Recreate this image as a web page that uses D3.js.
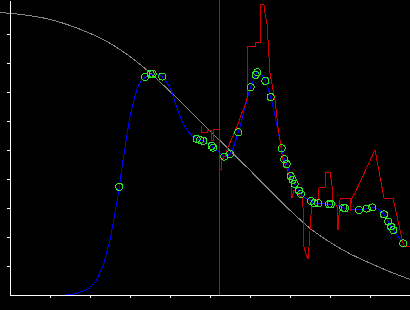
<!DOCTYPE html>
<html>
<head>
<meta charset="utf-8">
<script src="https://cdn.jsdelivr.net/npm/d3@7"></script>
<style>
  html, body { margin: 0; padding: 0; background: #000; }
  svg { display: block; }
</style>
</head>
<body>
<svg id="chart" width="410" height="310"></svg>
<script>
// Reference curve (gray), fitted curve (blue), raw trace (red), samples (green rings).
const grayX = [-0.25, 0, 0.5, 1, 1.5, 2, 2.5, 3, 3.5, 4, 4.5, 5, 5.5, 6, 6.5, 7, 7.5, 8, 8.5, 9, 9.5, 10];
const grayY = [9.74, 9.71, 9.63, 9.5, 9.29, 9.02, 8.68, 8.22, 7.66, 7.02, 6.35, 5.66, 4.98, 4.3, 3.6, 2.92, 2.3, 1.82, 1.42, 1.1, 0.8, 0.54];

const blueX = [0, 1.375, 1.5, 1.667, 1.825, 1.958, 2.083, 2.167, 2.25, 2.333, 2.417, 2.5, 2.583, 2.625,
  2.733, 2.8, 2.875, 3.0, 3.125, 3.208, 3.25, 3.375, 3.542, 3.675, 3.808, 3.917, 4.042, 4.167, 4.292,
  4.458, 4.667, 4.75, 4.833, 5.042, 5.083, 5.208, 5.358, 5.5, 5.708, 6.017, 6.142, 6.183, 6.383, 6.517,
  6.792, 6.858, 6.917, 7.017, 7.067, 7.117, 7.225, 7.275, 7.525, 7.608, 7.708, 7.975, 8.025, 8.333,
  8.375, 8.725, 8.917, 9.058, 9.35, 9.458, 9.525, 9.583, 9.833];
const blueY = [0, 0, 0.02, 0.06, 0.14, 0.23, 0.38, 0.52, 0.79, 1.03, 1.48, 1.9, 2.52, 2.83,
  3.73, 4.41, 5.07, 6.14, 6.86, 7.21, 7.31, 7.5, 7.61, 7.6, 7.52, 7.33, 7.01, 6.47, 6.02,
  5.63, 5.38, 5.34, 5.31, 5.14, 5.08, 4.95, 4.77, 4.86, 5.61, 7.16, 7.59, 7.68, 7.38, 6.82,
  5.06, 4.68, 4.51, 4.1, 3.97, 3.83, 3.6, 3.48, 3.24, 3.17, 3.16, 3.13, 3.13, 3.01,
  2.99, 2.93, 2.98, 3.02, 2.78, 2.53, 2.36, 2.24, 1.78];

const sampleX = [2.733, 3.375, 3.517, 3.567, 3.808, 4.667, 4.75, 4.833, 5.042, 5.083, 5.358, 5.5, 5.708,
  6.017, 6.142, 6.183, 6.383, 6.517, 6.792, 6.858, 6.917, 7.017, 7.067, 7.117, 7.225, 7.275, 7.525,
  7.608, 7.708, 7.975, 8.025, 8.333, 8.375, 8.725, 8.917, 9.058, 9.35, 9.458, 9.525, 9.583, 9.833];
const sampleY = [3.73, 7.51, 7.62, 7.62, 7.53, 5.38, 5.34, 5.31, 5.14, 5.08, 4.77, 4.86, 5.61,
  7.16, 7.59, 7.68, 7.38, 6.82, 5.06, 4.68, 4.51, 4.1, 3.97, 3.83, 3.6, 3.48, 3.24,
  3.17, 3.16, 3.13, 3.13, 3.01, 2.99, 2.93, 2.98, 3.02, 2.78, 2.53, 2.36, 2.24, 1.78];

const redX = [4.775, 4.775, 4.925, 4.925, 5.025, 5.025, 5.075, 5.075, 5.225, 5.238, 5.275, 5.3, 5.375,
  5.45, 5.55, 5.625, 5.7, 5.775, 5.85, 5.925, 5.95, 6.125, 6.15, 6.25, 6.25, 6.35, 6.375, 6.425, 6.45,
  6.5, 6.575, 6.625, 6.7, 6.75, 6.775, 6.825, 6.875, 6.95, 7.025, 7.05, 7.1, 7.15, 7.25, 7.3, 7.325,
  7.35, 7.4, 7.45, 7.475, 7.525, 7.55, 7.7, 7.725, 7.75, 7.875, 7.9, 8.0, 8.05, 8.075, 8.175, 8.2,
  8.25, 8.275, 8.5, 8.5, 8.55, 8.625, 9.125, 9.35, 9.575, 9.825, 9.875, 10];
const redY = [5.83, 5.59, 5.59, 5.66, 5.66, 5.34, 5.34, 5.72, 5.72, 4.31, 4.31, 4.66, 4.79,
  5.1, 5.41, 5.66, 5.9, 6.21, 6.45, 6.76, 8.55, 8.55, 8.72, 8.72, 10.0, 10.0, 9.72, 9.34, 8.79,
  7.66, 7.07, 6.72, 5.79, 5.34, 5.07, 4.66, 4.52, 4.24, 3.97, 3.34, 3.62, 3.55, 3.41, 3.38, 3.03,
  1.66, 1.41, 1.24, 1.66, 2.76, 3.28, 3.28, 3.69, 3.72, 3.72, 4.24, 4.24, 3.76, 3.28, 3.03, 2.24,
  3.28, 3.34, 3.34, 2.9, 3.34, 3.52, 5.0, 3.34, 3.34, 1.79, 1.66, 1.66];

const markerX = 5.23;
const xTicks = [1, 2, 3, 4, 5, 6, 7, 8, 9];
const yTicks = [1, 2, 3, 4, 5, 6, 7, 8, 9];

const svg = d3.select("#chart").attr("shape-rendering", "crispEdges");
const width = +svg.attr("width");
const height = +svg.attr("height");

svg.append("rect").attr("width", width).attr("height", height).attr("fill", "#000");

const x = d3.scaleLinear().domain([0, 10]).range([10, 410]);
const y = d3.scaleLinear().domain([0, 10.17]).range([295, 0]);

const zip = (xs, ys) => xs.map((v, i) => [v, ys[i]]);

const line = d3.line().x(d => x(d[0])).y(d => y(d[1]));
const smooth = d3.line().x(d => x(d[0])).y(d => y(d[1])).curve(d3.curveMonotoneX);

// gray reference curve, runs a little past the left axis
svg.append("path")
  .attr("d", smooth(zip(grayX, grayY)))
  .attr("fill", "none")
  .attr("stroke", "#848484")
  .attr("stroke-width", 1);

svg.append("line")
  .attr("x1", x(markerX) + 0.5).attr("x2", x(markerX) + 0.5)
  .attr("y1", 0).attr("y2", y(0))
  .attr("stroke", "#6a1f78")
  .attr("stroke-width", 1);

svg.append("path")
  .attr("d", smooth(zip(blueX, blueY)))
  .attr("fill", "none")
  .attr("stroke", "#0000ff")
  .attr("stroke-width", 1);

svg.append("path")
  .attr("d", line(zip(redX, redY)))
  .attr("fill", "none")
  .attr("stroke", "#d00000")
  .attr("stroke-width", 1);

svg.selectAll(".sample")
  .data(zip(sampleX, sampleY))
  .join("circle")
  .attr("class", "sample")
  .attr("cx", d => x(d[0]))
  .attr("cy", d => y(d[1]))
  .attr("r", 3.5)
  .attr("fill", "none")
  .attr("stroke", "#2ee62e")
  .attr("stroke-width", 1);

// axes without labels, ticks pointing outward
svg.append("g")
  .attr("transform", `translate(${x(0)},0)`)
  .call(d3.axisLeft(y).tickValues(yTicks).tickSize(3).tickSizeOuter(0).tickFormat(""));

svg.append("g")
  .attr("transform", `translate(0,${y(0)})`)
  .call(d3.axisBottom(x).tickValues(xTicks).tickSize(3).tickSizeOuter(0).tickFormat(""));

svg.selectAll(".domain, .tick line").attr("stroke", "#fff").attr("stroke-width", 1);
</script>
</body>
</html>
